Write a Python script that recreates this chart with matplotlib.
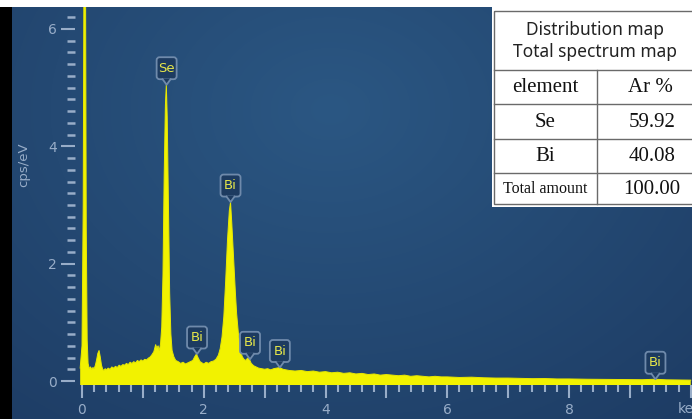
import numpy as np
import matplotlib.pyplot as plt
import matplotlib.transforms as mtransforms
from matplotlib.patches import Rectangle, FancyBboxPatch, Polygon
from matplotlib.lines import Line2D
from matplotlib.ticker import MultipleLocator, FuncFormatter
from matplotlib.colors import to_rgb

# EDS spectrum, energy in keV and counts in cps/eV
energy = [-0.03, 0.00, 0.02, 0.035, 0.055, 0.07, 0.085, 0.10,
          0.12, 0.14, 0.16, 0.18, 0.20, 0.22, 0.24, 0.26, 0.28, 0.30,
          0.32, 0.34, 0.36, 0.38, 0.40, 0.43, 0.46, 0.49, 0.52, 0.55,
          0.58, 0.61, 0.64, 0.67, 0.70, 0.73, 0.76, 0.79, 0.82, 0.85,
          0.88, 0.91, 0.94, 0.97, 1.00, 1.03, 1.06, 1.09, 1.12, 1.15,
          1.18, 1.21, 1.23, 1.25, 1.27, 1.29, 1.31, 1.33, 1.35, 1.37,
          1.385, 1.40, 1.42, 1.44, 1.46, 1.48, 1.51, 1.54, 1.58, 1.62,
          1.66, 1.70, 1.74, 1.78, 1.82, 1.85, 1.88, 1.91, 1.94, 1.97,
          2.00, 2.04, 2.08, 2.12, 2.16, 2.20, 2.24, 2.27, 2.30, 2.33,
          2.36, 2.39, 2.42, 2.44, 2.46, 2.48, 2.50, 2.52, 2.54, 2.57,
          2.60, 2.63, 2.66, 2.69, 2.72, 2.75, 2.78, 2.82, 2.86, 2.90,
          2.95, 3.00, 3.05, 3.10, 3.15, 3.20, 3.25, 3.30, 3.35, 3.40,
          3.5, 3.6, 3.7, 3.8, 3.9, 4.0, 4.1, 4.2, 4.3, 4.4, 4.5, 4.6,
          4.7, 4.8, 4.9, 5.0, 5.1, 5.2, 5.3, 5.4, 5.5, 5.6, 5.7, 5.8,
          5.9, 6.0, 6.2, 6.4, 6.6, 6.8, 7.0, 7.2, 7.4, 7.6, 7.8, 8.0,
          8.3, 8.6, 8.9, 9.2, 9.42, 9.6, 9.8, 10.0]
counts = [0.22, 0.6, 3.0, 8.0, 8.0, 2.6, 0.7, 0.3,
          0.21, 0.24, 0.20, 0.23, 0.21, 0.27, 0.36, 0.47, 0.52, 0.41,
          0.27, 0.20, 0.18, 0.21, 0.19, 0.22, 0.20, 0.24, 0.22, 0.25,
          0.23, 0.27, 0.25, 0.28, 0.27, 0.30, 0.28, 0.32, 0.30, 0.33,
          0.31, 0.35, 0.33, 0.36, 0.34, 0.37, 0.36, 0.39, 0.41, 0.45,
          0.50, 0.62, 0.56, 0.60, 0.52, 0.63, 0.92, 1.8, 3.5, 4.7,
          5.05, 4.5, 3.0, 1.5, 0.8, 0.52, 0.41, 0.35, 0.33, 0.30,
          0.32, 0.29, 0.31, 0.33, 0.35, 0.41, 0.46, 0.39, 0.33, 0.31,
          0.29, 0.32, 0.30, 0.33, 0.34, 0.37, 0.44, 0.55, 0.75, 1.1,
          1.7, 2.4, 2.9, 3.05, 2.7, 2.3, 1.9, 1.5, 1.15, 0.8,
          0.55, 0.42, 0.37, 0.35, 0.39, 0.37, 0.30, 0.26, 0.24, 0.22,
          0.21, 0.20, 0.21, 0.19, 0.21, 0.22, 0.23, 0.20, 0.19, 0.18,
          0.17, 0.18, 0.16, 0.17, 0.15, 0.16, 0.14, 0.15, 0.13, 0.14, 0.12, 0.13,
          0.11, 0.12, 0.10, 0.11, 0.10, 0.09, 0.10, 0.08, 0.09, 0.08, 0.07, 0.08,
          0.07, 0.07, 0.06, 0.065, 0.055, 0.05, 0.05, 0.045, 0.04, 0.042, 0.035, 0.035,
          0.03, 0.028, 0.025, 0.022, 0.03, 0.02, 0.018, 0.015]

# identified lines
peak_names = ['Se', 'Bi', 'Bi', 'Bi', 'Bi', 'Bi']
peak_energy = [1.39, 1.89, 2.44, 2.76, 3.25, 9.42]
peak_height = [5.05, 0.46, 3.05, 0.37, 0.23, 0.03]

# quantification table
table_title = ['Distribution map', 'Total spectrum map']
table_head = ['element', 'Ar %']
table_elements = ['Se', 'Bi']
table_percent = [59.92, 40.08]
table_total = 100.00

W, H = 692, 419
tick_col = '#98adc8'
box_face = '#1d3b60'
box_edge = '#6f8aab'

fig = plt.figure(figsize=(W / 100, H / 100), dpi=100)

# background panel in pixel coordinates
bg = fig.add_axes([0, 0, 1, 1])
bg.set_xlim(0, W)
bg.set_ylim(H, 0)
bg.axis('off')
yy, xx = np.mgrid[0:H, 0:W]
t = np.clip(np.hypot((xx - 330) / 560, (yy - 110) / 430), 0, 1)[..., None]
c_in = np.array(to_rgb('#2b5783'))
c_out = np.array(to_rgb('#1d3b63'))
bg.imshow(c_in * (1 - t) + c_out * t, extent=(0, W, H, 0), aspect='auto', zorder=0)
bg.add_patch(Rectangle((0, 0), W, 7, fc='white', ec='none', zorder=1))
bg.add_patch(Rectangle((0, 7), 12, H - 7, fc='black', ec='none', zorder=1))
bg.add_patch(Rectangle((492, 0), W - 492, 207, fc='white', ec='none', zorder=1))

# table grid
lc = '#6a6a6a'
bg.add_patch(Rectangle((494, 11), 220, 193, fc='none', ec=lc, lw=1, zorder=2))
for y in [70, 104.5, 139, 173]:
    bg.plot([494, W], [y, y], color=lc, lw=1, zorder=2)
bg.plot([597, 597], [70, 204], color=lc, lw=1, zorder=2)

bg.text(595, 30, table_title[0], ha='center', va='center', fontsize=12.5,
        family='Noto Sans', color='#222222', zorder=3)
bg.text(595, 52, table_title[1], ha='center', va='center', fontsize=12.5,
        family='Noto Sans', color='#222222', zorder=3)
serif = dict(ha='center', va='center', family='Liberation Serif', color='#111111', zorder=3)
bg.text(545, 88, table_head[0], fontsize=15, **serif)
bg.text(650, 88, table_head[1], fontsize=15, **serif)
for i, (el, pct) in enumerate(zip(table_elements, table_percent)):
    yrow = 122 + i * 34
    bg.text(545, yrow, el, fontsize=15, **serif)
    bg.text(652, yrow, f'{pct:.2f}', fontsize=15, **serif)
bg.text(545, 189, 'Total amount', fontsize=11.5, **serif)
bg.text(652, 189, f'{table_total:.2f}', fontsize=15, **serif)

# spectrum axes
x0_px, y0_px = 82, 381
px_x, px_y = 60.875, 58.67
left_px, bottom_px, top_px = 75, 385, 7
ax = fig.add_axes([left_px / W, (H - bottom_px) / H,
                   (W - left_px) / W, (bottom_px - top_px) / H])
ax.set_facecolor('none')
ax.set_xlim((left_px - x0_px) / px_x, (W - x0_px) / px_x)
ax.set_ylim((y0_px - bottom_px) / px_y, (y0_px - top_px) / px_y)
base = (y0_px - bottom_px) / px_y

ax.fill_between(energy, base, counts, color='#f2f200', lw=0, zorder=2)
ax.plot(energy, counts, color='#e8e800', lw=0.7, zorder=2)

for s in ax.spines.values():
    s.set_visible(False)

ax.xaxis.set_major_locator(MultipleLocator(1))
ax.xaxis.set_minor_locator(MultipleLocator(0.2))
ax.xaxis.set_major_formatter(FuncFormatter(
    lambda v, p: f'{v:.0f}' if round(v) % 2 == 0 and v < 9.5 else ''))
ax.yaxis.set_major_locator(MultipleLocator(2))
ax.yaxis.set_minor_locator(MultipleLocator(0.2))
ax.tick_params(axis='x', which='major', direction='out', length=9, width=1.5,
               color=tick_col, labelcolor=tick_col, labelsize=10, pad=4)
ax.tick_params(axis='x', which='minor', direction='out', length=5, width=1.5, color=tick_col)
ax.tick_params(axis='y', which='major', direction='out', length=10, width=1.5,
               color=tick_col, labelcolor=tick_col, labelsize=10, pad=3)
ax.tick_params(axis='y', which='minor', direction='out', length=6, width=1.8, color=tick_col)

ax.set_ylabel('cps/eV', color=tick_col, fontsize=9.5)
ax.yaxis.set_label_coords((30 - left_px) / (W - left_px), (bottom_px - 165) / (bottom_px - top_px))
fig.text(678 / W, (H - 409) / H, 'keV', color=tick_col, fontsize=10, ha='left', va='center')

# line markers: rounded box with a notch pointing at the peak
for name, e, h in zip(peak_names, peak_energy, peak_height):
    tr = fig.dpi_scale_trans + mtransforms.ScaledTranslation(e, h, ax.transData)
    box = FancyBboxPatch((-0.10, 0.055), 0.20, 0.22,
                         boxstyle='round,pad=0,rounding_size=0.03',
                         fc=box_face, ec=box_edge, lw=1.3, transform=tr,
                         clip_on=False, zorder=4)
    fig.add_artist(box)
    notch = Polygon([(-0.04, 0.062), (0.04, 0.062), (0.0, 0.0)], closed=True,
                    fc=box_face, ec='none', transform=tr, clip_on=False, zorder=5)
    fig.add_artist(notch)
    fig.add_artist(Line2D([-0.04, 0.0, 0.04], [0.055, 0.0, 0.055], color=box_edge,
                          lw=1.3, transform=tr, zorder=5))
    fig.text(0, 0.165, name, transform=tr, ha='center', va='center',
             fontsize=9.5, color='#e6e64a', zorder=6)

fig.savefig('out.png', dpi=100)
